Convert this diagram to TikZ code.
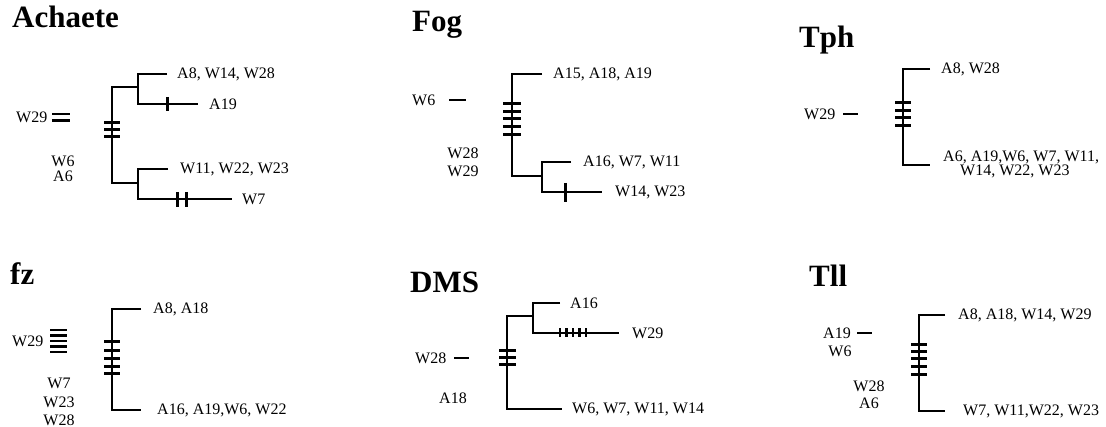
\documentclass[tikz,border=0pt]{standalone}
\usepackage{fontspec}
\setmainfont{Liberation Serif}
\newcommand\labfont{\fontsize{16}{18}\selectfont}
\newcommand\ttlfont{\bfseries\fontsize{31}{34}\selectfont}
\tikzset{
  br/.style={line width=2.7pt, line join=miter},
  tk/.style={line width=3pt},
  thin tk/.style={line width=2.3pt},
  dashmark/.style={line width=2.8pt},
  lab/.style={font=\labfont, inner sep=0pt, anchor=west},
  clab/.style={font=\labfont, inner sep=0pt, anchor=center},
  ttl/.style={font=\ttlfont, inner sep=0pt, anchor=base west},
}
\begin{document}
\begin{tikzpicture}[x=1pt,y=-1pt]
\useasboundingbox (0,0) rectangle (1106,427);
% ================= Achaete =================
\node[ttl] (tA) at (12,28) {Achaete};
\coordinate (a1) at (112,87);
\coordinate (a2) at (112,183);
\coordinate (a3) at (138,87);
\coordinate (a4) at (138,183);
\coordinate (a5) at (138,74);
\coordinate (a6) at (138,104);
\coordinate (a7) at (138,169);
\coordinate (a8) at (138,199);
\coordinate (a5e) at (167,74);
\coordinate (a6e) at (198,104);
\coordinate (a7e) at (168,169);
\coordinate (a8e) at (232,199);
\draw[br] (a3) -- (a1) -- (a2) -- (a4);
\draw[br] (a5e) -- (a5) -- (a6) -- (a6e);
\draw[br] (a7e) -- (a7) -- (a8) -- (a8e);
\foreach \y in {123,130,137} \draw[tk] (104,\y) -- (120,\y);
\draw[tk] (167,97) -- (167,111);
\draw[tk] (177,192) -- (177,207);
\draw[tk] (186,192) -- (186,207);
\node[lab] (lA1) at (177,74) {A8, W14, W28};
\node[lab] (lA2) at (209,104) {A19};
\node[lab] (lA3) at (180,169) {W11, W22, W23};
\node[lab] (lA4) at (242,199) {W7};
\node[lab] (lA5) at (16,117) {W29};
\draw[dashmark] (52,114) -- (70,114);
\draw[dashmark] (52,120.5) -- (70,120.5);
\node[clab] (lA6) at (63,161) {W6};
\node[clab] (lA7) at (63,176) {A6};
% ================= Fog =================
\node[ttl] (tF) at (412,32) {Fog};
\coordinate (f0) at (542,74);
\coordinate (f1) at (512,74);
\coordinate (f2) at (512,176);
\coordinate (f3) at (542,176);
\coordinate (f4) at (542,162);
\coordinate (f5) at (542,192);
\coordinate (f4e) at (571,162);
\coordinate (f5e) at (602,192);
\draw[br] (f0) -- (f1) -- (f2) -- (f3);
\draw[br] (f4e) -- (f4) -- (f5) -- (f5e);
\foreach \y in {104,112,119,127,135} \draw[tk] (503,\y) -- (521,\y);
\draw[tk] (565,183) -- (565,202);
\node[lab] (lF1) at (553,74) {A15, A18, A19};
\node[lab] (lF2) at (583,162) {A16, W7, W11};
\node[lab] (lF3) at (615,192) {W14, W23};
\node[lab] (lF4) at (412,100) {W6};
\draw[dashmark] (449,100) -- (466,100);
\node[clab] (lF5) at (463,153) {W28};
\node[clab] (lF6) at (463,171) {W29};
% ================= Tph =================
\node[ttl] (tT) at (799,48) {Tph};
\coordinate (t0) at (930,69);
\coordinate (t1) at (903,69);
\coordinate (t2) at (903,165);
\coordinate (t3) at (930,165);
\draw[br] (t0) -- (t1) -- (t2) -- (t3);
\foreach \y in {103,111,118,126} \draw[tk] (895,\y) -- (911,\y);
\node[lab] (lT1) at (941,69) {A8, W28};
\node[lab] (lT2) at (943,157) {A6, A19,W6, W7, W11,};
\node[lab] (lT3) at (960,171.5) {W14, W22, W23};
\node[lab] (lT4) at (804,114) {W29};
\draw[dashmark] (843,114) -- (858,114);
% ================= fz =================
\node[ttl] (tZ) at (10,285) {fz};
\coordinate (z0) at (141,309);
\coordinate (z1) at (112,309);
\coordinate (z2) at (112,410);
\coordinate (z3) at (141,410);
\draw[br] (z0) -- (z1) -- (z2) -- (z3);
\foreach \y in {342,351,359,367,374} \draw[tk] (104,\y) -- (120,\y);
\node[lab] (lZ1) at (153,309) {A8, A18};
\node[lab] (lZ2) at (157,410) {A16, A19,W6, W22};
\node[lab] (lZ3) at (12,341) {W29};
\foreach \y in {330,335.5,341,346.5,352} \draw[thin tk] (50,\y) -- (67,\y);
\node[clab] (lZ4) at (59,383) {W7};
\node[clab] (lZ5) at (59,402) {W23};
\node[clab] (lZ6) at (59,420) {W28};
% ================= DMS =================
\node[ttl] (tD) at (410,293) {DMS};
\coordinate (d1) at (507,316);
\coordinate (d2) at (507,409);
\coordinate (d2e) at (562,409);
\coordinate (d3) at (533,316);
\coordinate (d4) at (533,303);
\coordinate (d5) at (533,333);
\coordinate (d4e) at (560,303);
\coordinate (d5e) at (619,333);
\draw[br] (d3) -- (d1) -- (d2) -- (d2e);
\draw[br] (d4e) -- (d4) -- (d5) -- (d5e);
\foreach \y in {351,358,365} \draw[tk] (499,\y) -- (516,\y);
\foreach \x in {560,566.5,573,579.5,586} \draw[thin tk] (\x,328.5) -- (\x,337.5);
\node[lab] (lD1) at (570,303) {A16};
\node[lab] (lD2) at (632,333) {W29};
\node[lab] (lD3) at (572,409) {W6, W7, W11, W14};
\node[lab] (lD4) at (415,358) {W28};
\draw[dashmark] (454,358) -- (469,358);
\node[clab] (lD5) at (453,398) {A18};
% ================= Tll =================
\node[ttl] (tL) at (809,287) {Tll};
\coordinate (l0) at (945,315);
\coordinate (l1) at (919,315);
\coordinate (l2) at (919,411);
\coordinate (l3) at (945,411);
\draw[br] (l0) -- (l1) -- (l2) -- (l3);
\foreach \y in {345,352,359,367,375} \draw[tk] (911,\y) -- (927,\y);
\node[lab] (lL1) at (958,315) {A8, A18, W14, W29};
\node[lab] (lL2) at (963,411) {W7, W11,W22, W23};
\node[lab] (lL3) at (823,333) {A19};
\draw[dashmark] (857,333) -- (872,333);
\node[clab] (lL4) at (840,351) {W6};
\node[clab] (lL5) at (869,386) {W28};
\node[clab] (lL6) at (869,403) {A6};
\end{tikzpicture}
\end{document}
